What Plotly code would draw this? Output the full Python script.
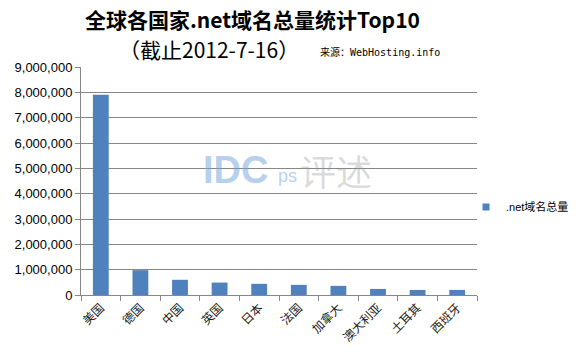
import plotly.graph_objects as go

categories = ["美国", "德国", "中国", "英国", "日本", "法国", "加拿大", "澳大利亚", "土耳其", "西班牙"]
values = [7900000, 980000, 600000, 490000, 440000, 400000, 360000, 240000, 200000, 200000]
series_name = ".net域名总量"
y_ticks = list(range(0, 9000001, 1000000))
y_tick_labels = [f"{v:,}" for v in y_ticks]

W, H = 582, 357
L, R, T, B = 81, 105, 67, 62
PW, PH = W - L - R, H - T - B
BAR_COLOR = "#4F81BD"


def px(x):
    return (x - L) / PW


def py(y):
    return (H - B - y) / PH


fig = go.Figure()
fig.add_trace(go.Bar(
    x=categories, y=values, name=series_name,
    marker=dict(color=BAR_COLOR, line=dict(width=0)),
    width=0.4, showlegend=False,
))
# legend entry with a small square swatch, as in the reference
fig.add_trace(go.Scatter(
    x=[None], y=[None], name=series_name, mode="markers",
    marker=dict(symbol="square", size=7, color=BAR_COLOR),
    showlegend=True, hoverinfo="skip",
))

fig.update_layout(
    width=W, height=H,
    margin=dict(l=L, r=R, t=T, b=B, autoexpand=False),
    paper_bgcolor="white", plot_bgcolor="white",
    font=dict(family="Arial, Liberation Sans, Noto Sans CJK SC", size=13, color="#000"),
    xaxis=dict(
        automargin=False,
        tickangle=-45, tickfont=dict(family="Noto Sans CJK SC", size=12, color="#222"),
        showline=True, linecolor="#868686", linewidth=1,
        ticks="outside", ticklen=5, tickcolor="#868686",
        tickson="boundaries", showgrid=False,
    ),
    yaxis=dict(
        automargin=False,
        range=[0, 9000000], tickvals=y_ticks, ticktext=y_tick_labels,
        showgrid=True, gridcolor="#868686", gridwidth=1,
        showline=True, linecolor="#868686", linewidth=1,
        ticks="outside", ticklen=5, tickcolor="#868686",
        tickfont=dict(family="Arial, Liberation Sans", size=13, color="#000"),
        zeroline=False,
    ),
    legend=dict(x=px(466), y=py(207), xanchor="left", yanchor="middle",
                font=dict(family="Arial, Noto Sans CJK SC", size=11, color="#000"),
                bgcolor="rgba(0,0,0,0)", itemwidth=30),
    annotations=[
        dict(text="<b>全球各国家.net域名总量统计Top10</b>", x=px(252), y=py(19),
             xref="paper", yref="paper", xanchor="center", yanchor="middle", showarrow=False,
             font=dict(family="Noto Sans CJK SC", size=21, color="#000")),
        dict(text="（截止2012-7-16）", x=px(209), y=py(49), xref="paper", yref="paper",
             xanchor="center", yanchor="middle", showarrow=False,
             font=dict(family="Noto Sans CJK SC", size=21, color="#000")),
        dict(text="来源：WebHosting.info", x=px(318), y=py(52), xref="paper", yref="paper",
             xanchor="left", yanchor="middle", showarrow=False,
             font=dict(family="DejaVu Sans Mono, Noto Sans CJK SC", size=10, color="#000")),
        dict(text="<b>IDC</b>", x=px(201), y=py(170), xref="paper", yref="paper",
             xanchor="left", yanchor="middle", showarrow=False,
             font=dict(family="Arial", size=38, color="rgba(120,170,220,0.55)")),
        dict(text="ps", x=px(276), y=py(176), xref="paper", yref="paper",
             xanchor="left", yanchor="middle", showarrow=False,
             font=dict(family="Arial", size=18, color="rgba(120,170,220,0.55)")),
        dict(text="评述", x=px(298), y=py(170), xref="paper", yref="paper",
             xanchor="left", yanchor="middle", showarrow=False,
             font=dict(family="Noto Sans CJK SC", size=36, color="rgba(150,150,150,0.35)")),
    ],
)

fig.write_html("out.html", config={"displayModeBar": False},
               post_script="document.body.style.margin='0';document.body.style.padding='0';")
